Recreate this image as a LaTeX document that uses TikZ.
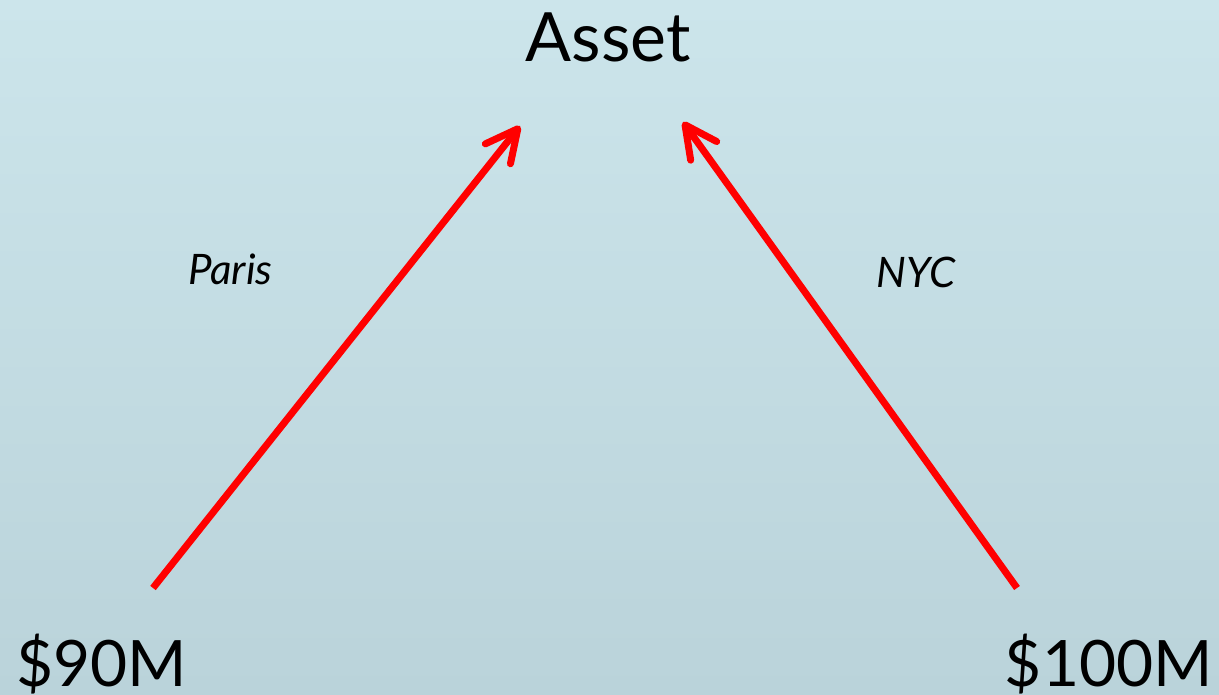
\documentclass[tikz,border=0pt]{standalone}
\usepackage{fontspec}
\setmainfont{Lato}
\usetikzlibrary{arrows.meta}
\definecolor{bgtop}{HTML}{CCE5EB}
\definecolor{bgbot}{HTML}{BAD3DA}
\definecolor{arrred}{HTML}{FF0000}
\tikzset{
  bigtext/.style={font=\fontsize{68}{80}\selectfont, text=black, inner sep=0pt},
  numtext/.style={font=\fontsize{64}{76}\selectfont, text=black, inner sep=0pt},
  citytext/.style={font=\fontsize{42}{50}\selectfont\itshape, text=black, inner sep=0pt},
  redarrow/.style={draw=arrred, line width=7pt, line cap=butt,
    -{Straight Barb[length=32pt,width=32pt,line cap=round,line join=round]}}
}
\begin{document}
\begin{tikzpicture}[x=1pt,y=-1pt]
  \shade[top color=bgtop, bottom color=bgbot] (0,0) rectangle (1219,695);
  \useasboundingbox (0,0) rectangle (1219,695);
  \node[bigtext, anchor=base] (asset) at (608,62) {Asset};
  \node[numtext, anchor=base west] (left) at (16,686) {\$90M};
  \node[numtext, anchor=base east] (right) at (1213,686) {\$100M};
  \node[citytext, anchor=base west] (paris) at (188,285) {Paris};
  \node[citytext, anchor=base west] (nyc) at (876,288) {NYC};
  \coordinate (s1) at (153,588);
  \coordinate (t1) at (520,126);
  \coordinate (s2) at (1017,588);
  \coordinate (t2) at (683,122);
  \draw[redarrow] (s1) -- (t1);
  \draw[redarrow] (s2) -- (t2);
\end{tikzpicture}
\end{document}
